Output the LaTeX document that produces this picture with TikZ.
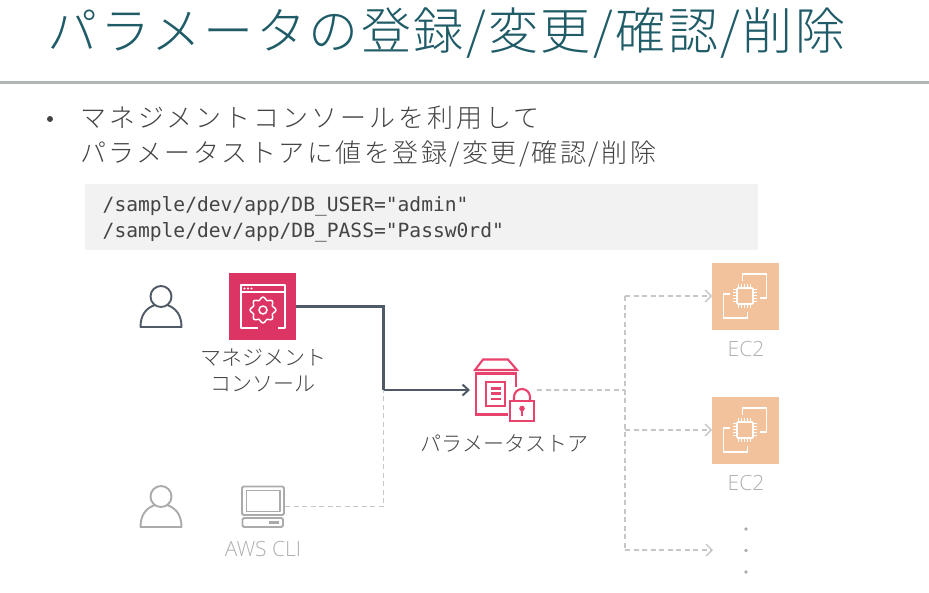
\documentclass[tikz,border=0pt]{standalone}
\usepackage{fontspec}
\usetikzlibrary{arrows.meta}
\setmainfont{Open Sans}[UprightFont=* Light]
\newfontfamily\jpf{Noto Sans CJK JP Light}
\newfontfamily\jptitle{Noto Sans CJK JP Light}[LetterSpace=5.0]
\newfontfamily\jpbody{Noto Sans CJK JP Light}[LetterSpace=9.5]
\newfontfamily\jpbodyb{Noto Sans CJK JP Light}[LetterSpace=11.3]
\newfontfamily\codef{DejaVu Sans Mono}
\newfontfamily\latinf{Open Sans Light}
\definecolor{titlec}{HTML}{1F5C68}
\definecolor{rulec}{HTML}{B0B8B6}
\definecolor{bodyc}{HTML}{444444}
\definecolor{pinkc}{HTML}{DD3563}
\definecolor{storec}{HTML}{E8436C}
\definecolor{ec2c}{HTML}{F2C29C}
\definecolor{darkc}{HTML}{4F5A66}
\definecolor{fadec}{HTML}{C6C6C6}
\definecolor{fadet}{HTML}{B0B0B0}
\definecolor{iconc}{HTML}{ABABAB}
\tikzset{
  x=1pt,y=-1pt,
  lbl/.style={font=\jpf\fontsize{21}{25}\selectfont,text=bodyc,inner sep=0,anchor=center},
  fadelbl/.style={font=\latinf\fontsize{21}{24}\selectfont,text=fadet,inner sep=0,anchor=center},
  mainconn/.style={draw=darkc,line width=2.2pt,-{Straight Barb[length=6pt,width=11pt,line width=2pt]}},
  mainplain/.style={draw=darkc,line width=2.2pt},
  fadeconn/.style={draw=fadec,line width=1.4pt,dash pattern=on 5pt off 3.5pt},
  fadearrow/.style={fadeconn,-{Straight Barb[length=6pt,width=12pt,line width=1.3pt]}},
  square/.style={minimum size=67pt,inner sep=0,outer sep=0,draw=none},
  holder/.style={inner sep=0,outer sep=0,draw=none},
  ec2icon/.style={draw=white,line width=1.7pt,line join=round},
  person/.pic={
    \draw[line width=1.9pt,draw=#1] (0,-10.5) circle[radius=10.5];
    \draw[line width=1.9pt,draw=#1,line join=round] (-6,-2) .. controls (-15,1) and (-20.5,8) .. (-20.5,20) -- (20.5,20) .. controls (20.5,8) and (15,1) .. (6,-2);
  },
  chips/.pic={
    \draw[ec2icon] (-3,-25) -- (-3,-32) -- (21,-32) -- (21,-8) -- (14,-8);
    \draw[ec2icon] (-16,-12) -- (-22,-12) -- (-22,12) -- (2,12) -- (2,6);
    \draw[ec2icon,rounded corners=1pt] (-8.5,-18) rectangle (7.5,-2);
    \foreach \t in {-7,-4,-1,2,5}{
      \draw[white,line width=1.2pt] (\t,-22) -- (\t,-18) (\t,-2) -- (\t,2);
    }
    \foreach \t in {-16.5,-13.5,-10.5,-7.5,-4.5}{
      \draw[white,line width=1.2pt] (-12.5,\t) -- (-8.5,\t) (7.5,\t) -- (11.5,\t);
    }
  }
}
\begin{document}
\begin{tikzpicture}
\useasboundingbox (0,0) rectangle (929,592);
\fill[white] (0,0) rectangle (929,592);

% title and text
\node[font=\jptitle\fontsize{50}{56}\selectfont,text=titlec,anchor=center,inner sep=0] (title) at (446.5,33) {パラメータの登録/変更/確認/削除};
\fill[rulec] (0,80.5) rectangle (929,84);
\fill[bodyc] (50,119) circle[radius=3] coordinate (bullet);
\node[font=\jpbodyb\fontsize{26}{36}\selectfont,text=bodyc,anchor=west,inner sep=0] (line1) at (80,118) {マネジメントコンソールを利用して};
\node[font=\jpbody\fontsize{26}{36}\selectfont,text=bodyc,anchor=west,inner sep=0] (line2) at (80,154) {パラメータストアに値を登録/変更/確認/削除};

% code box
\fill[black!5] (85,184) rectangle (758,250);
\node[font=\codef\fontsize{19.6}{24}\selectfont,text=bodyc,anchor=west,inner sep=0] (code1) at (102.5,206) {/sample/dev/app/DB\_USER="admin"};
\node[font=\codef\fontsize{19.6}{24}\selectfont,text=bodyc,anchor=west,inner sep=0] (code2) at (102.5,232) {/sample/dev/app/DB\_PASS="Passw0rd"};

% connector anchors
\node[square,fill=pinkc] (console) at (262.5,306.5) {};
\node[holder,minimum width=67pt,minimum height=67pt] (store) at (503.5,390) {};
\node[square,fill=ec2c] (ec2a) at (745.5,296) {};
\node[square,fill=ec2c] (ec2b) at (745.5,430) {};
\node[holder,minimum width=44pt,minimum height=41pt] (cli) at (263,506.5) {};
\coordinate (merge) at (383.5,390);
\coordinate (trunk) at (625,390);
\coordinate (trunktop) at (625,296);
\coordinate (trunkmid) at (625,430);
\coordinate (trunkbot) at (625,550);
\coordinate (more) at (713,550);

% faded connectors
\draw[fadeconn] (cli.east) -| (merge);
\draw[fadeconn] (store.east) -- (trunk);
\draw[fadeconn] (trunktop) -- (trunkbot);
\draw[fadearrow] (trunktop) -- (ec2a.west);
\draw[fadearrow] (trunkmid) -- (ec2b.west);
\draw[fadearrow] (trunkbot) -- (more);

% main connector
\draw[mainplain] (console.east) -| (merge);
\draw[mainconn] (merge) -- (store.west);

% people
\pic at (161,307) {person={darkc}};
\pic at (161,507) {person={iconc}};

% console icon
\begin{scope}[white,line width=1.5pt,line join=round]
  \draw (258,328) -- (241,328) -- (241,285) -- (285,285) -- (285,328) -- (278,328);
  \draw (241,292) -- (285,292);
  \foreach \d in {244.5,248,251.5}{\fill[white] (\d,288.5) circle[radius=1.1];}
  \draw (263,310) circle[radius=4];
  \draw plot[smooth cycle,domain=0:352.5,samples=48] ({263+(11.6+1.4*cos(8*\x))*cos(\x)},{310+(11.6+1.4*cos(8*\x))*sin(\x)});
\end{scope}
\node[lbl] (consolelbl1) at (263,358) {マネジメント};
\node[lbl] (consolelbl2) at (263,384) {コンソール};

% parameter store icon
\begin{scope}[storec,line width=2.1pt,line join=miter]
  \draw (475,370) -- (483,359.5) -- (508,359.5) -- (517,370) -- cycle;
  \draw (516,387) -- (516,373.5) -- (475.8,373.5) -- (475.8,414.5) -- (508,414.5);
  \draw (486,382) rectangle (505,406);
  \draw (491,388.5) -- (500.5,388.5) (491,393.5) -- (500.5,393.5) (491,399) -- (500.5,399);
  \draw (510,401) rectangle (534,421);
  \draw (514,401) -- (514,397) arc[start angle=180,end angle=360,radius=8] -- (530,401);
  \fill[storec] (522,408.5) circle[radius=2.8];
  \draw (522,409) -- (522,415.5);
\end{scope}
\node[lbl] (storelbl) at (504.5,443) {パラメータストア};

% EC2
\pic at (745.5,306) {chips};
\pic at (745.5,440) {chips};
\node[fadelbl] (ec2alabel) at (746,349) {EC2};
\node[fadelbl] (ec2blabel) at (746,483) {EC2};
\foreach \yy in {529,550.5,572}{\fill[iconc] (746,\yy) circle[radius=1.8];}

% CLI icon
\begin{scope}[iconc,line width=1.9pt,line join=round]
  \draw[rounded corners=1.5pt] (242,486.5) rectangle (284,515);
  \draw (246.5,490.5) rectangle (280,511.5);
  \draw[rounded corners=1.5pt] (242.5,518) rectangle (283,527);
  \fill (269,521) rectangle (279,523.5);
\end{scope}
\node[fadelbl] (clilabel) at (263,549) {AWS CLI};
\end{tikzpicture}
\end{document}
